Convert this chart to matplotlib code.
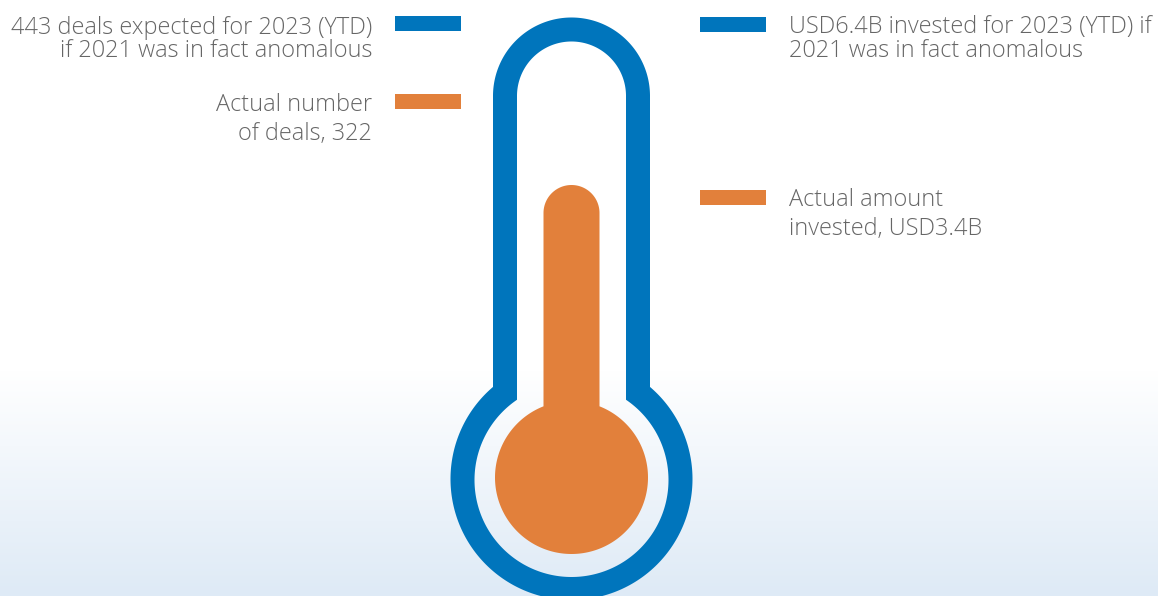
import numpy as np
import matplotlib
matplotlib.use("Agg")
import matplotlib.pyplot as plt
from matplotlib.path import Path
from matplotlib.patches import PathPatch, Rectangle

# ---- data ----
deals_expected = 443
deals_actual = 322
invested_expected_b = 6.4
invested_actual_b = 3.4
left_labels = [
    [f"{deals_expected} deals expected for 2023 (YTD)", "if 2021 was in fact anomalous"],
    ["Actual number", f"of deals, {deals_actual}"],
]
right_labels = [
    [f"USD{invested_expected_b}B invested for 2023 (YTD) if", "2021 was in fact anomalous"],
    ["Actual amount", f"invested, USD{invested_actual_b}B"],
]

BLUE = "#0075bc"
ORANGE = "#e2803b"
TEXT = "#666666"

W, H = 1158, 596
fig = plt.figure(figsize=(W / 100, H / 100), dpi=100)
ax = fig.add_axes([0, 0, 1, 1])
ax.set_xlim(0, W)
ax.set_ylim(H, 0)
ax.axis("off")

# background gradient
ys = np.arange(H)
t = np.clip((ys - 370) / (H - 370), 0, 1)
top = np.array([1.0, 1.0, 1.0])
bot = np.array([222, 234, 246]) / 255
grad = top[None, :] * (1 - t[:, None]) + bot[None, :] * t[:, None]
ax.imshow(grad[:, None, :], extent=[0, W, H, 0], aspect="auto", zorder=0)

cx = 571.5
tube_cy = 96.0


def contour(r_tube, top_cy, r_bulb, bulb_cy, n=240):
    # rounded top from right side over the top to left side (screen coords, y down)
    a = np.linspace(0, np.pi, n)
    top_x = cx + r_tube * np.cos(a)
    top_y = top_cy - r_tube * np.sin(a)
    dy = np.sqrt(r_bulb ** 2 - r_tube ** 2)
    yj = bulb_cy - dy
    ang0 = np.arctan2(-dy, -r_tube)            # upper-left junction
    ang1 = np.arctan2(-dy, r_tube) - 2 * np.pi  # upper-right junction, going round the bottom
    b = np.linspace(ang0, ang1, n)
    bx = cx + r_bulb * np.cos(b)
    by = bulb_cy + r_bulb * np.sin(b)
    xs = np.concatenate([top_x, [cx - r_tube], bx, [cx + r_tube]])
    yv = np.concatenate([top_y, [yj], by, [yj]])
    return np.column_stack([xs, yv])


outer = contour(78.5, tube_cy, 121.0, 479.0)
inner = contour(54.5, tube_cy, 97.0, 480.0)[::-1]
verts = np.vstack([outer, outer[:1], inner, inner[:1]])
codes = ([Path.MOVETO] + [Path.LINETO] * (len(outer) - 1) + [Path.CLOSEPOLY]
         + [Path.MOVETO] + [Path.LINETO] * (len(inner) - 1) + [Path.CLOSEPOLY])
ax.add_patch(PathPatch(Path(verts, codes), facecolor=BLUE, edgecolor="none", zorder=2))

# orange mercury: rounded stem + bulb as a single outline
stem_l, stem_r = 543.5, 599.5
stem_top = 185.0
r_s = (stem_r - stem_l) / 2
merc = contour(r_s, stem_top + r_s, 76.5, 477.5)
ax.fill(merc[:, 0], merc[:, 1], color=ORANGE, lw=0, zorder=3)

# legend swatches
for (x0, y0, c) in [(395, 16, BLUE), (395, 94, ORANGE), (700, 17, BLUE), (700, 190, ORANGE)]:
    ax.add_patch(Rectangle((x0, y0), 66, 15, facecolor=c, edgecolor="none", zorder=4))

font = dict(family=["Open Sans", "DejaVu Sans"], fontweight="light", color=TEXT,
            fontsize=16.9)


def block(x, baselines, lines, ha):
    for yb, s in zip(baselines, lines):
        ax.text(x, yb, s, ha=ha, va="baseline", **font)


block(372, [34, 57], left_labels[0], "right")
block(372, [111, 140], left_labels[1], "right")
block(789, [33, 57], right_labels[0], "left")
block(789, [206, 235], right_labels[1], "left")

fig.savefig("out.png", dpi=100)
